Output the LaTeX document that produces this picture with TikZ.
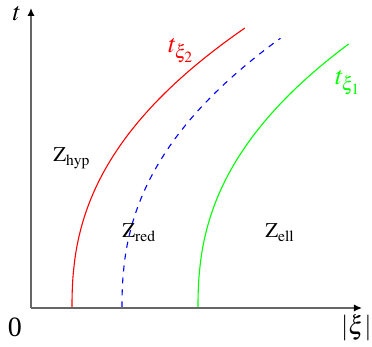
\documentclass[tikz,border=0pt]{standalone}
\usepackage{mathptmx}
\usepackage[no-math]{fontspec}
\setmainfont{Liberation Serif}
\usepackage{tikz}
\usetikzlibrary{arrows,arrows.meta}

\begin{document}
\begin{tikzpicture}[
x=0.5pt,y=0.5pt,
lbl/.style={font=\fontsize{10.5}{12}\selectfont,inner sep=0pt},
biglbl/.style={font=\fontsize{13}{15}\selectfont,inner sep=0pt},
axis/.style={-{Latex[length=4pt,width=3.6pt,color=black]},draw=black!60,line width=0.7pt},
border/.style={line width=0.55pt,smooth,samples=60} ]

\useasboundingbox (-31,-39) rectangle (341,308);

\coordinate (O) at (0,0);
\coordinate (X) at (331,0);
\coordinate (T) at (0,300);

\draw[border,red] plot[domain=0.002:1] ({41+173*\x^2.35},{280*\x});
\draw[border,blue,dash pattern=on 3pt off 3pt] plot[domain=0.002:0.964] ({91+173*\x^2.35},{280*\x});
\draw[border,green] plot[domain=0.002:0.943] ({167+173*\x^2.35},{280*\x});

\draw[axis] (O) -- (X);
\draw[axis] (O) -- (T);

\node[biglbl](tT) at (-14,294) {$t$};
\node[lbl,font=\fontsize{14}{16}\selectfont](zero) at (-16,-19) {0};
\node[biglbl,anchor=east](xi) at (341,-20) {$|\xi|$};

\node[biglbl,anchor=base west,red](t2) at (137,255) {$t_{\xi_2}$};
\node[biglbl,anchor=base west,green](t1) at (304,223) {$t_{\xi_1}$};

\node[lbl,anchor=base west](zhyp) at (22,146) {$\mathrm{Z}_{\mathrm{hyp}}$};
\node[lbl,anchor=base west](zred) at (91,70) {$\mathrm{Z}_{\mathrm{red}}$};
\node[lbl,anchor=base west](zell) at (234,70) {$\mathrm{Z}_{\mathrm{ell}}$};

\end{tikzpicture}
\end{document}
